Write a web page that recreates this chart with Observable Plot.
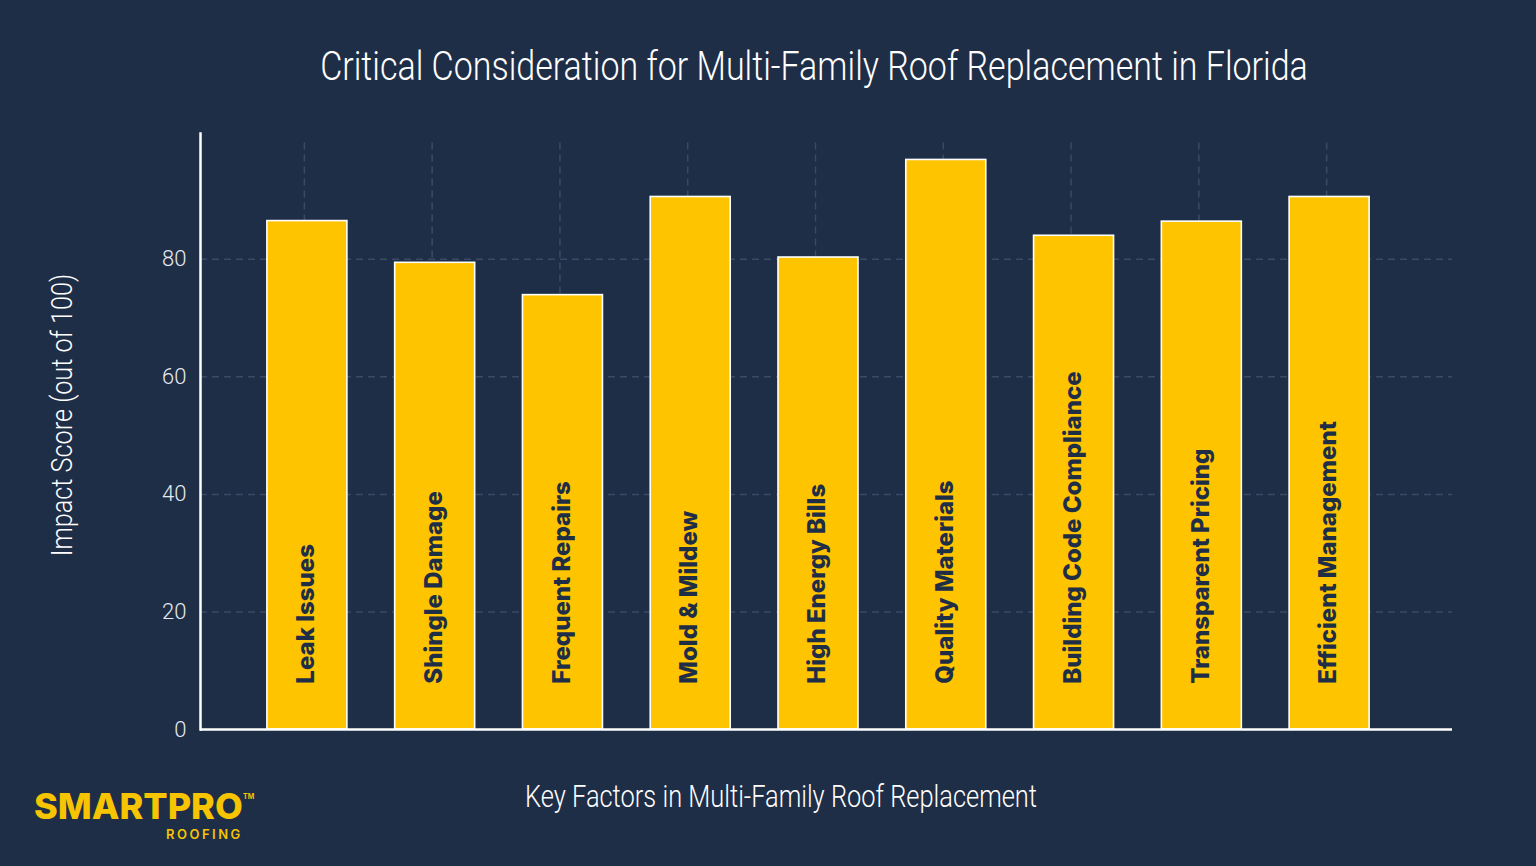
<!DOCTYPE html>
<html>
<head>
<meta charset="utf-8">
<script src="https://cdn.jsdelivr.net/npm/d3@7"></script>
<script src="https://cdn.jsdelivr.net/npm/@observablehq/plot@0.6"></script>
<style>
  html, body { margin: 0; padding: 0; background: #1f2e47; width: 1536px; height: 866px; overflow: hidden; }
  #wrap { position: relative; width: 1536px; height: 866px; }
  #chart { position: absolute; left: 0; top: 0; }
  .ctext { position: absolute; white-space: nowrap; color: #ffffff; font-family: Roboto, "Open Sans", sans-serif; font-weight: 300; }
  .ctext span { display: inline-block; }
  #title { left: 814px; top: 43px; font-size: 40px; }
  #title span { transform: translateX(-50%) scaleX(0.85); transform-origin: 50% 0; }
  #xtitle { left: 781px; top: 778px; font-size: 31px; }
  #xtitle span { transform: translateX(-50%) scaleX(0.82); transform-origin: 50% 0; }
  #ytitle { left: 62px; top: 415px; font-size: 29px; }
  #ytitle span { transform: translate(-50%, -50%) rotate(-90deg) scaleX(0.87); transform-origin: 50% 50%; }
  #logo { position: absolute; left: 34px; top: 786px; color: #f6c400; font-family: Inter, "Noto Sans", sans-serif; }
  #logo .brand { font-size: 36px; font-weight: 800; letter-spacing: 0px; line-height: 40px; }
  #logo .tm { position: absolute; left: 209px; top: 6px; font-size: 7px; font-weight: 700; }
  #logo .sub { position: absolute; left: 132px; top: 40px; font-size: 13px; font-weight: 600; letter-spacing: 2.5px; }
  svg [aria-label="y-axis tick label"] text { font-family: Roboto, "Open Sans", sans-serif; font-weight: 300; }
</style>
</head>
<body>
<div id="wrap">
  <div id="chart"></div>
  <div id="title" class="ctext"><span>Critical Consideration for Multi-Family Roof Replacement in Florida</span></div>
  <div id="ytitle" class="ctext"><span>Impact Score (out of 100)</span></div>
  <div id="xtitle" class="ctext"><span>Key Factors in Multi-Family Roof Replacement</span></div>
  <div id="logo"><div class="brand">SMARTPRO</div><div class="tm">TM</div><div class="sub">ROOFING</div></div>
</div>
<script>
const categories = ["Leak Issues", "Shingle Damage", "Frequent Repairs", "Mold & Mildew", "High Energy Bills", "Quality Materials", "Building Code Compliance", "Transparent Pricing", "Efficient Management"];
const scores = [86.5, 79.4, 73.9, 90.6, 80.3, 96.9, 84.0, 86.4, 90.6];
const yTicks = [0, 20, 40, 60, 80];
const yMax = 101.4;
const labelBase = 7.8;

const data = categories.map((c, i) => ({factor: c, score: scores[i]}));

const bg = "#1f2e47";
const yellow = "#ffc400";
const gridColor = "#3a4a66";

const chart = Plot.plot({
  width: 1536,
  height: 866,
  marginTop: 133,
  marginBottom: 137,
  marginLeft: 200,
  marginRight: 84,
  style: {background: "transparent", color: "#e6e9ef", overflow: "visible"},
  x: {domain: categories, range: [243, 1393], paddingInner: 0.374, paddingOuter: 0.187, round: false, axis: null},
  y: {domain: [0, yMax], axis: null},
  marks: [
    Plot.gridY(yTicks.filter(d => d > 0), {stroke: gridColor, strokeOpacity: 1, strokeWidth: 1.5, strokeDasharray: "7,5"}),
    Plot.gridX(categories, {stroke: gridColor, strokeOpacity: 1, strokeWidth: 1.5, strokeDasharray: "7,5", y1: 99.8, y2: 0, dx: -3}),
    Plot.barY(data, {x: "factor", y: "score", fill: yellow, stroke: "#ffffff", strokeWidth: 1.6}),
    Plot.text(data, {x: "factor", y: labelBase, text: "factor", rotate: -90, textAnchor: "start", fill: bg, fontSize: 24, fontWeight: 800, dx: -1, fontFamily: "Inter, 'Noto Sans', sans-serif"}),
    Plot.ruleY([0], {stroke: "#ffffff", strokeWidth: 2.5}),
    Plot.frame({anchor: "left", stroke: "#ffffff", strokeWidth: 2.5}),
    Plot.axisY({ticks: yTicks, tickSize: 0, tickPadding: 14, fontSize: 22, label: null, fill: "#e6e9ef"})
  ]
});
document.getElementById("chart").appendChild(chart);
</script>
</body>
</html>
